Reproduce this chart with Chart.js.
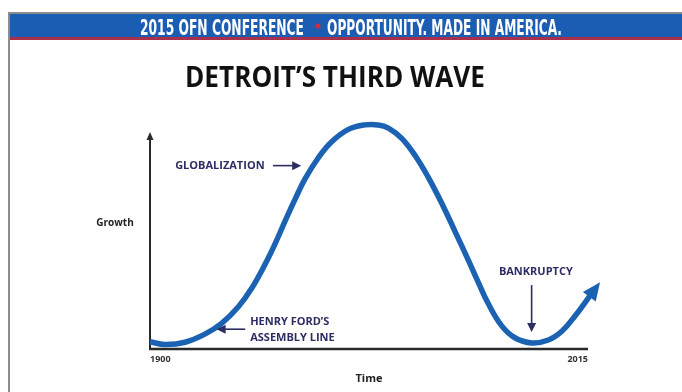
<!DOCTYPE html>
<html>
<head>
<meta charset="utf-8">
<script src="https://cdn.jsdelivr.net/npm/chart.js@4.4.0/dist/chart.umd.min.js"></script>
<style>
  html, body { margin: 0; padding: 0; background: #fff; }
  #wrap { position: relative; width: 682px; height: 392px; }
</style>
</head>
<body>
<div id="wrap"><canvas id="wave" width="682" height="392"></canvas></div>
<script>
// --- data (growth is in arbitrary units, 0-100) ---
const years = [1900, 1903.9, 1909.2, 1914.4, 1918.8, 1923.2, 1926.7, 1930.2, 1932.8, 1935.4,
  1938.1, 1940.7, 1944.2, 1947.7, 1952.1, 1956.4, 1959.9, 1962.6, 1966.1, 1969.6,
  1973.1, 1976.6, 1980.1, 1983.6, 1986.2, 1988.8, 1992.3, 1995.8, 2000.2, 2004.6,
  2008.2, 2011.6, 2015.5];
const growth = [3.2, 2.0, 3.0, 6.6, 11.4, 18.8, 27.0, 37.6, 46.6, 56.6,
  66.6, 75.6, 85.0, 92.1, 97.6, 99.6, 99.6, 98.2, 93.6, 86.0,
  76.2, 64.8, 52.2, 39.4, 29.6, 20.2, 10.4, 5.0, 2.7, 4.0,
  8.0, 14.7, 23.6];
const tickYears = [1900, 2015];

const headerLeft = '2015 OFN CONFERENCE';
const headerRight = 'OPPORTUNITY. MADE IN AMERICA.';
const chartTitle = 'DETROIT\u2019S THIRD WAVE';
const yLabel = 'Growth';
const xLabel = 'Time';

// annotations, anchored in data units (year, growth)
const notes = [
  { lines: ['GLOBALIZATION'], year: 1906.6, value: 81.5, arrow: { from: [1932.3, 81.5], to: [1939.7, 81.5] } },
  { lines: ['HENRY FORD\u2019S', 'ASSEMBLY LINE'], year: 1926.3, value: 12.1, arrow: { from: [1925.0, 8.8], to: [1917.5, 8.8] } },
  { lines: ['BANKRUPTCY'], year: 1991.6, value: 34.4, arrow: { from: [2000.2, 28.4], to: [2000.2, 7.6] } }
];

const BLUE = '#1c62b2';
const NAVY = '#2e2c64';
const AXIS = '#2a2a2a';

function fitText(ctx, text, x, y, width) {
  // squeeze text horizontally so it spans the given width
  const w = ctx.measureText(text).width;
  ctx.save();
  ctx.translate(x, y);
  ctx.scale(width / w, 1);
  ctx.fillText(text, 0, 0);
  ctx.restore();
}

function arrowHead(ctx, x0, y0, x1, y1, len, half) {
  const a = Math.atan2(y1 - y0, x1 - x0);
  const bx = x1 - Math.cos(a) * len, by = y1 - Math.sin(a) * len;
  ctx.beginPath();
  ctx.moveTo(x1, y1);
  ctx.lineTo(bx - Math.sin(a) * half, by + Math.cos(a) * half);
  ctx.lineTo(bx + Math.sin(a) * half, by - Math.cos(a) * half);
  ctx.closePath();
  ctx.fill();
}

const decor = {
  id: 'decor',
  beforeDraw(chart) {
    const ctx = chart.ctx;
    ctx.save();
    // frame
    ctx.fillStyle = '#8c8c8c';
    ctx.fillRect(8, 12, 674, 2);
    ctx.fillRect(8, 12, 2, 380);
    // header band
    ctx.fillStyle = '#1b5db2';
    ctx.fillRect(10, 14, 672, 24);
    ctx.fillStyle = '#a8304a';
    ctx.fillRect(10, 37, 672, 3);
    ctx.fillStyle = '#ffffff';
    ctx.font = 'bold 22px "Liberation Sans Narrow", "DejaVu Sans Condensed", "Liberation Sans", sans-serif';
    ctx.textBaseline = 'alphabetic';
    fitText(ctx, headerLeft, 140, 34.5, 164);
    fitText(ctx, headerRight, 327, 34.5, 235);
    ctx.fillStyle = '#d4283c';
    ctx.beginPath();
    ctx.arc(318, 26, 2.5, 0, Math.PI * 2);
    ctx.fill();
    // title
    ctx.fillStyle = '#111111';
    ctx.font = 'bold 28px "Open Sans", sans-serif';
    ctx.textBaseline = 'alphabetic';
    fitText(ctx, chartTitle, 185, 87, 300);
    ctx.restore();
  },
  beforeDatasetsDraw(chart) {
    const ctx = chart.ctx;
    const x = chart.scales.x, y = chart.scales.y;
    const left = x.getPixelForValue(1900), right = x.getPixelForValue(2015);
    const base = y.getPixelForValue(0);
    ctx.save();
    ctx.strokeStyle = AXIS;
    ctx.fillStyle = AXIS;
    ctx.lineWidth = 2.5;
    ctx.beginPath();
    ctx.moveTo(left - 1, base);
    ctx.lineTo(right, base);
    ctx.stroke();
    ctx.lineWidth = 2;
    const top = chart.chartArea.top + 8;
    ctx.beginPath();
    ctx.moveTo(left, base);
    ctx.lineTo(left, top + 4);
    ctx.stroke();
    arrowHead(ctx, left, base, left, top, 8, 3.5);
    // y label
    ctx.font = 'bold 10px "Open Sans", sans-serif';
    ctx.fillStyle = '#222222';
    ctx.textAlign = 'center';
    ctx.textBaseline = 'middle';
    ctx.fillText(yLabel, left - 35, y.getPixelForValue(56));
    ctx.restore();
  },
  afterDatasetsDraw(chart) {
    const ctx = chart.ctx;
    const x = chart.scales.x, y = chart.scales.y;
    const n = years.length;
    ctx.save();
    // arrow head on the end of the wave
    const px0 = x.getPixelForValue(years[n - 2]), py0 = y.getPixelForValue(growth[n - 2]);
    const px1 = x.getPixelForValue(years[n - 1]), py1 = y.getPixelForValue(growth[n - 1]);
    const a = Math.atan2(py1 - py0, px1 - px0);
    ctx.fillStyle = BLUE;
    arrowHead(ctx, px1, py1, px1 + Math.cos(a) * 17, py1 + Math.sin(a) * 17, 18, 8);
    // annotations
    ctx.fillStyle = NAVY;
    ctx.strokeStyle = NAVY;
    ctx.font = 'bold 11px "Open Sans", sans-serif';
    ctx.textAlign = 'left';
    ctx.textBaseline = 'middle';
    notes.forEach(note => {
      const tx = x.getPixelForValue(note.year);
      const ty = y.getPixelForValue(note.value);
      note.lines.forEach((line, i) => ctx.fillText(line, tx, ty + i * 16.5));
      const ax0 = x.getPixelForValue(note.arrow.from[0]), ay0 = y.getPixelForValue(note.arrow.from[1]);
      const ax1 = x.getPixelForValue(note.arrow.to[0]), ay1 = y.getPixelForValue(note.arrow.to[1]);
      const ang = Math.atan2(ay1 - ay0, ax1 - ax0);
      ctx.lineWidth = 1.6;
      ctx.beginPath();
      ctx.moveTo(ax0, ay0);
      ctx.lineTo(ax1 - Math.cos(ang) * 6, ay1 - Math.sin(ang) * 6);
      ctx.stroke();
      arrowHead(ctx, ax0, ay0, ax1, ay1, 9, 4.5);
    });
    ctx.restore();
  }
};

new Chart(document.getElementById('wave'), {
  type: 'line',
  data: {
    datasets: [{
      data: years.map((yr, i) => ({ x: yr, y: growth[i] })),
      borderColor: BLUE,
      borderWidth: 5.5,
      borderCapStyle: 'butt',
      borderJoinStyle: 'round',
      pointRadius: 0,
      tension: 0.4,
      clip: false,
      fill: false
    }]
  },
  options: {
    responsive: false,
    animation: false,
    events: [],
    layout: { padding: { left: 150, right: 94, top: 124, bottom: 0 } },
    plugins: { legend: { display: false }, tooltip: { enabled: false } },
    scales: {
      x: {
        type: 'linear',
        min: 1900,
        max: 2015,
        afterBuildTicks: axis => { axis.ticks = tickYears.map(v => ({ value: v })); },
        afterFit: axis => { axis.height = 43; },
        grid: { display: false, drawTicks: false },
        border: { display: false },
        ticks: {
          align: 'inner',
          padding: 5,
          color: '#333333',
          font: { family: '"Open Sans", sans-serif', size: 9, weight: 'bold' },
          callback: v => String(v)
        },
        title: {
          display: true,
          text: xLabel,
          color: '#222222',
          font: { family: '"Open Sans", sans-serif', size: 11, weight: 'bold' },
          padding: { top: 0, bottom: 7 }
        }
      },
      y: { display: false, min: 0, max: 100 }
    }
  },
  plugins: [decor]
});
</script>
</body>
</html>
